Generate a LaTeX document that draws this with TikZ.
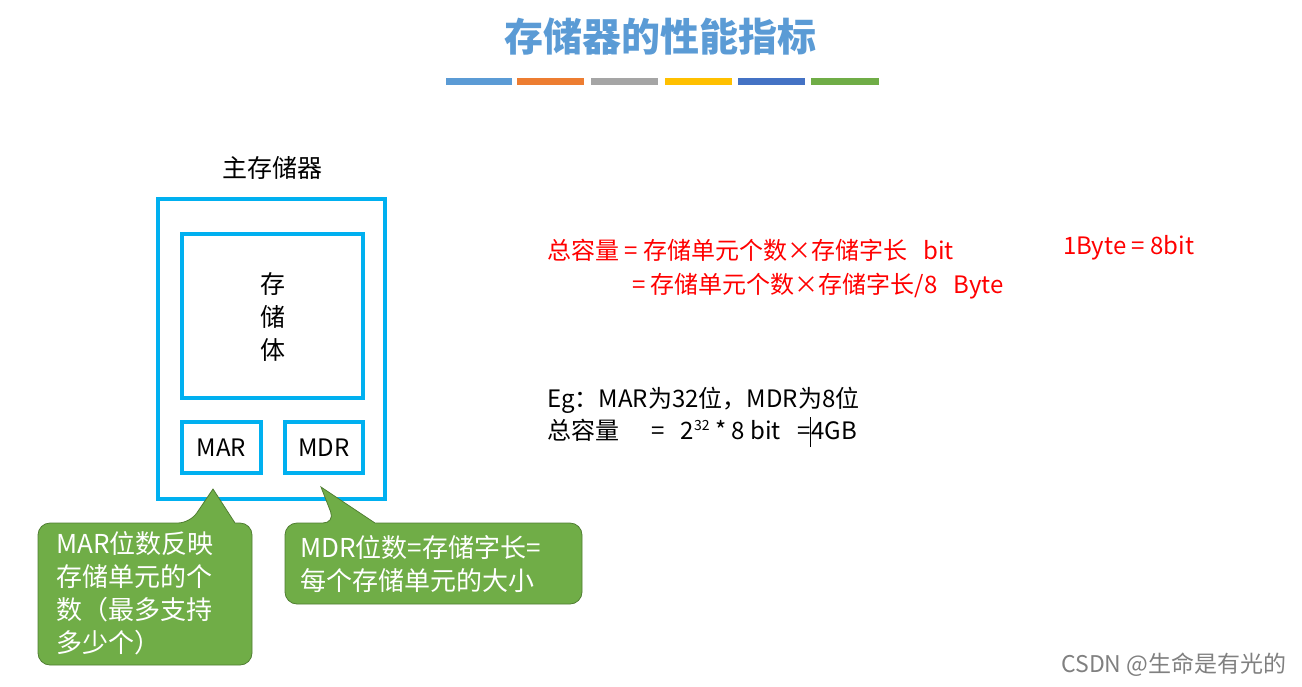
\documentclass[tikz,border=0pt]{standalone}
\usepackage{fontspec}
\setmainfont{Noto Sans CJK SC}
\definecolor{tblue}{HTML}{5B9BD5}
\definecolor{torange}{HTML}{ED7D31}
\definecolor{tgray}{HTML}{A5A5A5}
\definecolor{tgold}{HTML}{FFC000}
\definecolor{tdblue}{HTML}{4472C4}
\definecolor{tgreen}{HTML}{70AD47}
\definecolor{tgreenb}{HTML}{507E32}
\definecolor{tcyan}{HTML}{00B0F0}
\begin{document}
\begin{tikzpicture}[x=1pt,y=-1pt,
  cbox/.style={draw=tcyan,line width=3.5pt},
  txt/.style={font=\fontsize{24}{30}\selectfont,inner sep=0pt},
  ctxt/.style={font=\fontsize{26}{33}\selectfont,inner sep=0pt,text=white,align=left,anchor=north west},
  redtxt/.style={txt,text=red,anchor=west},
  call/.style={fill=tgreen,draw=tgreenb,line width=0.8pt,rounded corners=12pt}]
\useasboundingbox (0,0) rectangle (1302,686);
\node[font=\fontsize{39}{46}\selectfont\bfseries,text=tblue] (title) at (660,37) {存储器的性能指标};
\foreach \a/\b/\c in {446/512/tblue,517/584/torange,591/658/tgray,665/732/tgold,738/805/tdblue,811/879/tgreen}
  \fill[\c] (\a,78) rectangle (\b,85);
\node[txt,font=\fontsize{25}{30}\selectfont] (mainlbl) at (272,168) {主存储器};
\draw[cbox] (158,199) rectangle (385,499);
\draw[cbox] (182,234) rectangle (363,398);
\node[txt,align=center,font=\fontsize{25}{33}\selectfont] (body) at (273,317) {存\\储\\体};
\draw[cbox] (182,422) rectangle (261,473);
\node[txt] (mar) at (221.5,447.5) {MAR};
\draw[cbox] (285,422) rectangle (363,473);
\node[txt] (mdr) at (324,447.5) {MDR};
\draw[call] (38,523) -- (190,523) [sharp corners]-- (213,489) -- (235,523) [rounded corners=12pt] -- (252,523) -- (252,665) -- (38,665) -- cycle;
\draw[call] (285,523) -- (335,523) [sharp corners]-- (321,487) -- (375,523) [rounded corners=12pt] -- (582,523) -- (582,604) -- (285,604) -- cycle;
\node[ctxt] (c1) at (56,531) {MAR位数反映\\存储单元的个\\数（最多支持\\多少个）};
\node[ctxt] (c2) at (300,535) {MDR位数=存储字长=\\每个存储单元的大小};
\node[redtxt] (f1) at (547,250) {总容量\ =\ 存储单元个数×存储字长\ \ \ bit};
\node[redtxt] (f2) at (632,286) {=\ 存储单元个数×存储字长/8\ \ \ Byte};
\node[redtxt] (f3) at (1063,248) {1Byte = 8bit};
\node[txt,anchor=west] (eg1) at (547,400) {Eg：MAR为32位，MDR为8位};
\node[txt,anchor=west] (eg2) at (547,432) {总容量\ \ \ \ \ \ =\ \ \ 2\raisebox{9pt}{\fontsize{14}{14}\selectfont 32} * 8 bit\ \ \ =\rule[-8pt]{0.8pt}{30pt}4GB};
\node[font=\fontsize{23}{28}\selectfont,text=gray,anchor=east] (wm) at (1290,665) {CSDN @生命是有光的};
\end{tikzpicture}
\end{document}
